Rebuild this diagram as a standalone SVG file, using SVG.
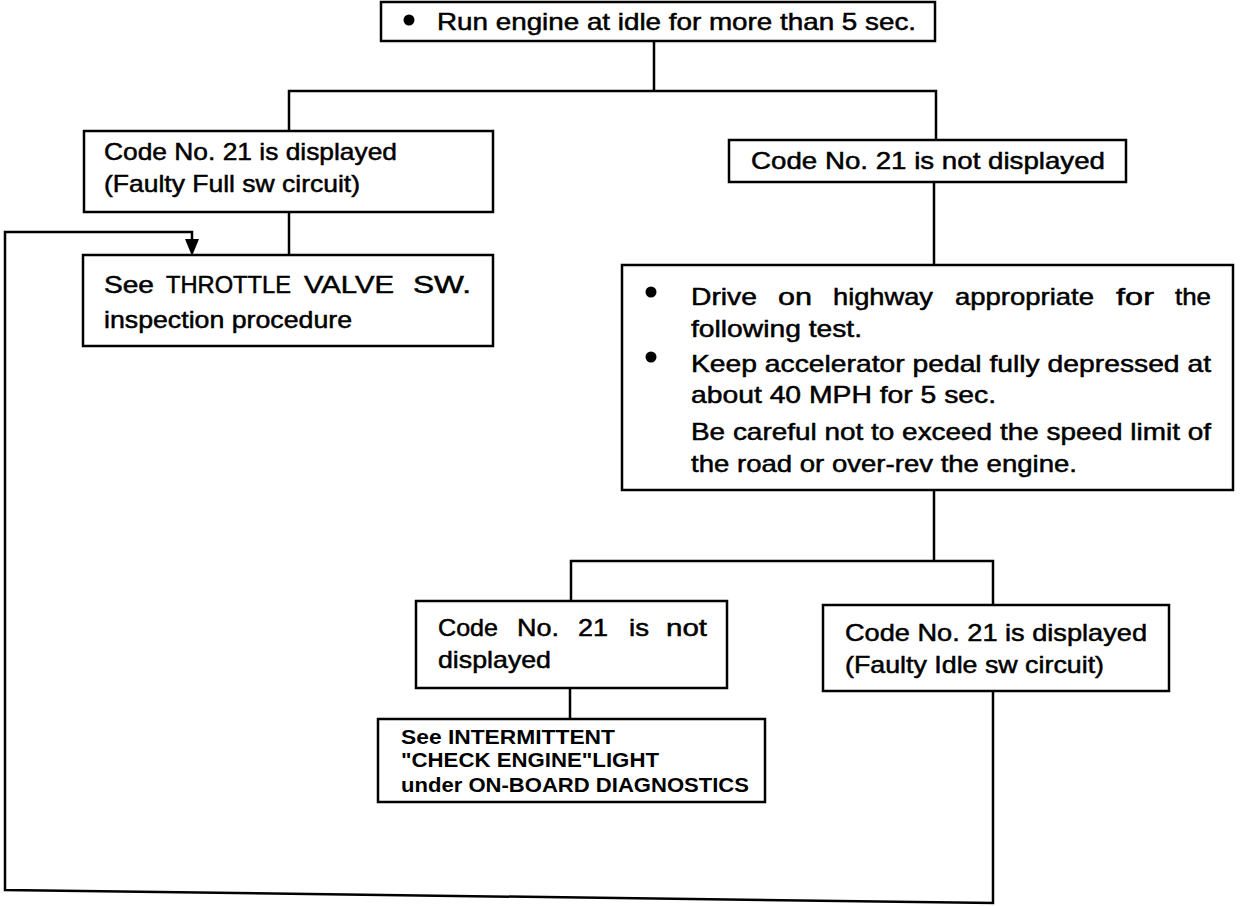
<svg xmlns="http://www.w3.org/2000/svg" width="1248" height="906" viewBox="0 0 1248 906">
<defs>
<style>
.box{fill:#fff;stroke:#000;stroke-width:2.5}
.t{font-family:"Liberation Sans",Arial,sans-serif;font-size:24px;fill:#000;stroke:#000;stroke-width:0.5}
.b{font-family:"Liberation Sans",Arial,sans-serif;font-size:20px;font-weight:bold;fill:#000}
.c{fill:none;stroke:#000;stroke-width:2.5}
</style>
</defs>
<rect width="1248" height="906" fill="#fff"/>
<g id="connectors">
<path class="c" d="M654,41 V92 M289,131 V91 H936 V140"/>
<path class="c" d="M289,212 V255"/>
<path class="c" d="M934,182 V265"/>
<path class="c" d="M934,490 V561 M571,601 V561 H993 V605"/>
<path class="c" d="M570,688 V719"/>
<path class="c" d="M993,691 V903 L5,890 V232 H192 V242"/>
<polygon points="185,239 199,239 192,256" fill="#000"/>
</g>
<g id="n1">
<rect class="box" x="381" y="2" width="554" height="39"/>
<circle cx="409" cy="20" r="5.5" fill="#000"/>
<text class="t" x="437" y="30" textLength="479" lengthAdjust="spacingAndGlyphs">Run engine at idle for more than 5 sec.</text>
</g>
<g id="n2">
<rect class="box" x="84" y="131" width="409" height="81"/>
<text class="t" x="104" y="160" textLength="293" lengthAdjust="spacingAndGlyphs">Code No. 21 is displayed</text>
<text class="t" x="104" y="192" textLength="256" lengthAdjust="spacingAndGlyphs">(Faulty Full sw circuit)</text>
</g>
<g id="n3">
<rect class="box" x="729" y="140" width="397" height="42"/>
<text class="t" x="751" y="169" textLength="354" lengthAdjust="spacingAndGlyphs">Code No. 21 is not displayed</text>
</g>
<g id="n4">
<rect class="box" x="83" y="255" width="410" height="91"/>
<text class="t" x="104" y="293" textLength="50" lengthAdjust="spacingAndGlyphs">See</text>
<text class="t" x="166" y="293" textLength="125" lengthAdjust="spacingAndGlyphs">THROTTLE</text>
<text class="t" x="304" y="293" textLength="90" lengthAdjust="spacingAndGlyphs">VALVE</text>
<text class="t" x="413" y="293" textLength="58" lengthAdjust="spacingAndGlyphs">SW.</text>
<text class="t" x="104" y="328" textLength="248" lengthAdjust="spacingAndGlyphs">inspection procedure</text>
</g>
<g id="n5">
<rect class="box" x="622" y="265" width="611" height="225"/>
<circle cx="651" cy="292" r="5.5" fill="#000"/>
<circle cx="651" cy="357" r="5.5" fill="#000"/>
<text class="t" x="691" y="305" textLength="66" lengthAdjust="spacingAndGlyphs">Drive</text>
<text class="t" x="778" y="305" textLength="34" lengthAdjust="spacingAndGlyphs">on</text>
<text class="t" x="833" y="305" textLength="100" lengthAdjust="spacingAndGlyphs">highway</text>
<text class="t" x="955" y="305" textLength="139" lengthAdjust="spacingAndGlyphs">appropriate</text>
<text class="t" x="1116" y="305" textLength="38" lengthAdjust="spacingAndGlyphs">for</text>
<text class="t" x="1175" y="305" textLength="36" lengthAdjust="spacingAndGlyphs">the</text>
<text class="t" x="691" y="337" textLength="171" lengthAdjust="spacingAndGlyphs">following test.</text>
<text class="t" x="691" y="372" textLength="520" lengthAdjust="spacingAndGlyphs">Keep accelerator pedal fully depressed at</text>
<text class="t" x="691" y="403" textLength="305" lengthAdjust="spacingAndGlyphs">about 40 MPH for 5 sec.</text>
<text class="t" x="691" y="440" textLength="520" lengthAdjust="spacingAndGlyphs">Be careful not to exceed the speed limit of</text>
<text class="t" x="691" y="472" textLength="386" lengthAdjust="spacingAndGlyphs">the road or over-rev the engine.</text>
</g>
<g id="n6">
<rect class="box" x="416" y="601" width="311" height="87"/>
<text class="t" x="438" y="636" textLength="60" lengthAdjust="spacingAndGlyphs">Code</text>
<text class="t" x="517" y="636" textLength="42" lengthAdjust="spacingAndGlyphs">No.</text>
<text class="t" x="578" y="636" textLength="30" lengthAdjust="spacingAndGlyphs">21</text>
<text class="t" x="629" y="636" textLength="20" lengthAdjust="spacingAndGlyphs">is</text>
<text class="t" x="666" y="636" textLength="41" lengthAdjust="spacingAndGlyphs">not</text>
<text class="t" x="438" y="668" textLength="113" lengthAdjust="spacingAndGlyphs">displayed</text>
</g>
<g id="n7">
<rect class="box" x="823" y="605" width="346" height="86"/>
<text class="t" x="845" y="641" textLength="302" lengthAdjust="spacingAndGlyphs">Code No. 21 is displayed</text>
<text class="t" x="845" y="673" textLength="259" lengthAdjust="spacingAndGlyphs">(Faulty Idle sw circuit)</text>
</g>
<g id="n8">
<rect class="box" x="378" y="719" width="387" height="83"/>
<text class="b" x="401" y="744" textLength="214" lengthAdjust="spacingAndGlyphs">See INTERMITTENT</text>
<text class="b" x="401" y="767" textLength="258" lengthAdjust="spacingAndGlyphs">"CHECK ENGINE"LIGHT</text>
<text class="b" x="401" y="792" textLength="348" lengthAdjust="spacingAndGlyphs">under ON-BOARD DIAGNOSTICS</text>
</g>
</svg>
